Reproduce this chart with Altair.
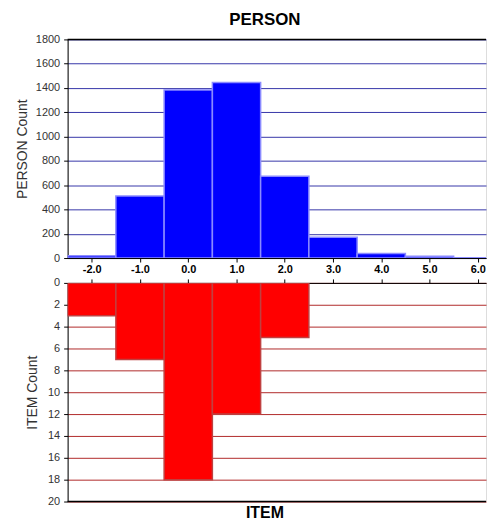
import altair as alt
import pandas as pd

# data
person_centers = [-2, -1, 0, 1, 2, 3, 4, 5, 6]
person_counts = [18, 510, 1383, 1446, 673, 172, 38, 14, 2]
item_centers = [-2, -1, 0, 1, 2]
item_counts = [3, 7, 18, 12, 5]
x_ticks = [-2, -1, 0, 1, 2, 3, 4, 5, 6]
person_ticks = list(range(0, 1801, 200))
item_ticks = list(range(0, 21, 2))

X_DOMAIN = [-2.5, 6.171]

pdf = pd.DataFrame({"c": person_centers, "n": person_counts})
pdf["x0"] = pdf["c"] - 0.5
pdf["x1"] = pdf["c"] + 0.5
pdf["z"] = 0
idf = pd.DataFrame({"c": item_centers, "n": item_counts})
idf["x0"] = idf["c"] - 0.5
idf["x1"] = idf["c"] + 0.5
idf["z"] = 0

FONT = "Liberation Sans"
W = 421
H_TOP = 220
H_BOT = 220

xscale = alt.Scale(domain=X_DOMAIN, nice=False, zero=False)

top_bars = alt.Chart(pdf).mark_bar(
    color="#0000ff", stroke="#8a8aff", strokeWidth=1.5, clip=True
).encode(
    x=alt.X("x0:Q", scale=xscale,
            axis=alt.Axis(values=x_ticks, title=None, grid=False,
                          labelExpr="(datum.value < 0 ? '-' : '') + format(abs(datum.value), '.1f')",
                          domainColor="#000000", tickColor="#000000", tickSize=4,
                          labelFont=FONT, labelFontWeight="bold", labelFontSize=11,
                          labelColor="#000000", labelPadding=2, labelOverlap=False)),
    x2="x1:Q",
    y=alt.Y("n:Q", scale=alt.Scale(domain=[0, 1800], nice=False),
            axis=alt.Axis(values=person_ticks, title="PERSON Count", format="d",
                          labelOverlap=False,
                          gridColor="#3636a8", gridWidth=1, gridOpacity=1,
                          domainColor="#000000", tickColor="#000000", tickSize=4,
                          labelFont=FONT, labelFontSize=11, labelColor="#333333",
                          labelPadding=4,
                          titleFont=FONT, titleFontSize=14, titleFontWeight="normal",
                          titleColor="#333333", titlePadding=6)),
    y2="z:Q",
)

top_border = alt.Chart(pd.DataFrame({"v": [0]})).mark_rule(
    color="#000000", strokeWidth=1.5
).encode(y=alt.value(0))

top = alt.layer(top_bars, top_border).properties(
    width=W, height=H_TOP,
    title=alt.TitleParams("PERSON", font=FONT, fontSize=17, fontWeight="bold",
                          color="#000000", offset=5, dx=-12),
)

bot_bars = alt.Chart(idf).mark_bar(
    color="#ff0000", stroke="#c04040", strokeWidth=1.5, clip=True
).encode(
    x=alt.X("x0:Q", scale=xscale,
            axis=alt.Axis(values=x_ticks, orient="top", labels=False, title=None, grid=False,
                          domainColor="#000000", tickColor="#000000", tickSize=4)),
    x2="x1:Q",
    y=alt.Y("n:Q", scale=alt.Scale(domain=[0, 20], nice=False, reverse=True),
            axis=alt.Axis(values=item_ticks, title="ITEM Count", format="d",
                          labelOverlap=False,
                          gridColor="#b02a2a", gridWidth=1, gridOpacity=1,
                          domainColor="#000000", tickColor="#000000", tickSize=4,
                          labelFont=FONT, labelFontSize=11, labelColor="#333333",
                          labelPadding=4,
                          titleFont=FONT, titleFontSize=14, titleFontWeight="normal",
                          titleColor="#333333", titlePadding=8)),
    y2="z:Q",
)

bot_border = alt.Chart(pd.DataFrame({"v": [0]})).mark_rule(
    color="#000000", strokeWidth=1.5
).encode(y=alt.value(H_BOT))

bottom = alt.layer(bot_bars, bot_border).properties(
    width=W, height=H_BOT,
    title=alt.TitleParams("ITEM", orient="bottom", font=FONT, fontSize=16,
                          fontWeight="bold", color="#000000", offset=-1, dx=-12),
)

chart = alt.vconcat(top, bottom, spacing=0).resolve_scale(y="independent").properties(
    padding={"left": 7, "top": 0, "right": 0, "bottom": 0}
).configure_view(stroke=None).configure(background="#ffffff")

chart.save("out.html", embed_options={"renderer": "svg", "actions": False})
